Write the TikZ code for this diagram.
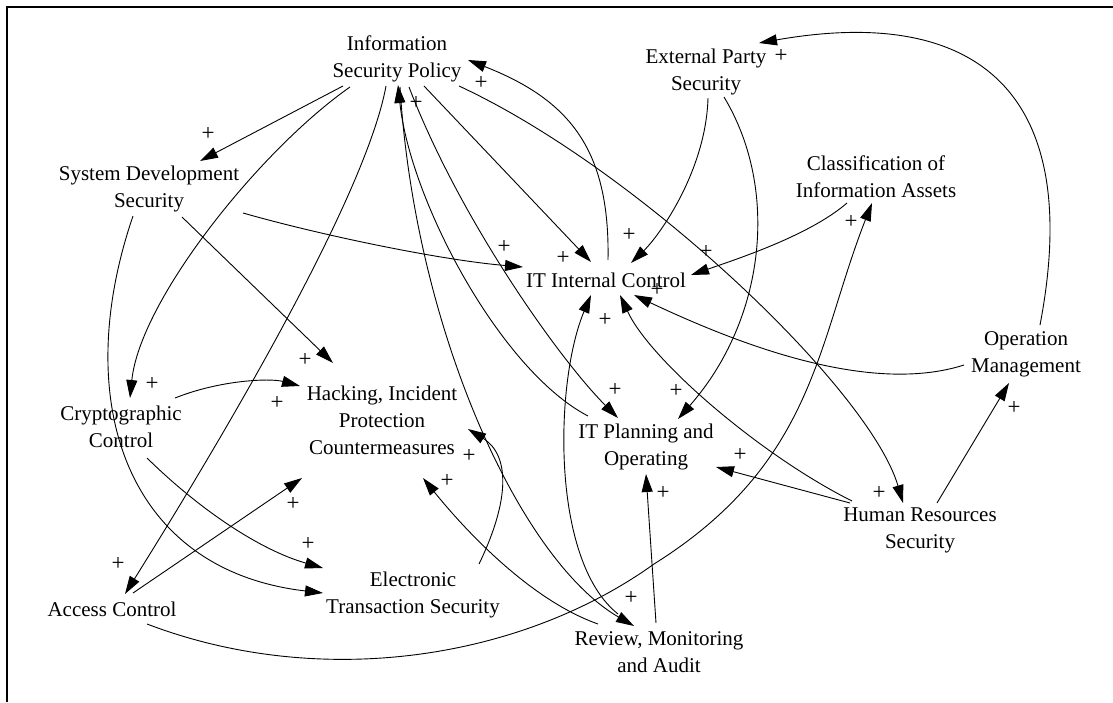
\documentclass[tikz,border=0pt]{standalone}
\usepackage{fontspec}
\setmainfont{Liberation Serif}
\usetikzlibrary{arrows.meta,calc}
\begin{document}
\begin{tikzpicture}[x=1pt,y=-1pt,
  var/.style={align=center,inner sep=0pt,font=\fontsize{21}{27}\selectfont},
  pol/.style={inner sep=0pt,font=\fontsize{23}{27}\selectfont},
  link/.style={line width=0.9pt,-{Triangle[length=18pt,width=11pt]}},
  frame/.style={line width=2.6pt,line join=miter}]
\useasboundingbox (0,0) rectangle (1113,702);
\fill[white] (0,0) rectangle (1113,702);
\draw[frame] (7,702) -- (7,7) -- (1113,7);

% variables
\node[var] (isp)  at (397,58.5)  {Information\\Security Policy};
\node[var] (eps)  at (706,71.5)  {External Party\\Security};
\node[var] (cia)  at (876,177)   {Classification of\\Information Assets};
\node[var] (sds)  at (149,188.5) {System Development\\Security};
\node[var] (itic) at (606,280)   {IT Internal Control};
\node[var] (cc)   at (121,427)   {Cryptographic\\Control};
\node[var] (hipc) at (382,420)   {Hacking, Incident\\Protection\\Countermeasures};
\node[var] (itpo) at (646,446.5) {IT Planning and\\Operating};
\node[var] (om)   at (1026,354)  {Operation\\Management};
\node[var] (hrs)  at (920,530.5) {Human Resources\\Security};
\node[var] (rma)  at (659,652)   {Review, Monitoring\\and Audit};
\node[var] (ets)  at (413,594.5) {Electronic\\Transaction Security};
\node[var] (ac)   at (112,609)   {Access Control};

% links leaving the security policy
\draw[link] ($(isp)+(-54,27.5)$) -- ($(sds)+(51,-27.5)$);
\draw[link] ($(isp)+(-47,28.5)$) .. controls (260,150) and (140,300) .. ($(cc)+(9,-29)$);
\draw[link] ($(isp)+(-11,27.5)$) .. controls (365,200) and (215,450) .. ($(ac)+(13,-15)$);
\draw[link] ($(isp)+(3,28.5)$) .. controls (415,330) and (520,560) .. ($(rma)+(-25,-26)$);
\draw[link] ($(itpo)+(-58,-30.5)$) .. controls (500,370) and (410,200) .. ($(isp)+(1,26.5)$);
\draw[link] ($(isp)+(12,28.5)$) .. controls (460,220) and (560,360) .. ($(itpo)+(-28,-28.5)$);
\draw[link] ($(isp)+(27,27.5)$) -- ($(itic)+(-15,-18)$);
\draw[link] ($(itic)+(2,-20)$) .. controls (610,150) and (570,100) .. ($(isp)+(71,1.5)$);
\draw[link] ($(isp)+(62,27.5)$) .. controls (640,170) and (870,390) .. ($(hrs)+(-17,-27.5)$);

% system development security
\draw[link] ($(sds)+(94,24.5)$) .. controls (320,235) and (440,260) .. ($(itic)+(-83,-13)$);
\draw[link] ($(sds)+(33,28.5)$) -- ($(hipc)+(-49,-57)$);
\draw[link] ($(sds)+(-16,27.5)$) .. controls (70,400) and (125,570) .. ($(ets)+(-90,-1.5)$);

% cryptographic control
\draw[link] ($(cc)+(54,-29)$) .. controls (220,380) and (270,378) .. ($(hipc)+(-82,-34)$);
\draw[link] ($(cc)+(26,31)$) .. controls (200,510) and (260,550) .. ($(ets)+(-90,-26.5)$);

% access control
\draw[link] ($(ac)+(21,-16)$) -- ($(hipc)+(-80,58)$);
\draw[link] ($(ac)+(35,15)$) .. controls (320,690) and (520,660) .. (654,564)
  .. controls (815,463) and (817,343) .. ($(cia)+(-4,26)$);

% electronic transactions, review
\draw[link] ($(ets)+(66,-30.5)$) .. controls (510,500) and (510,455) .. ($(hipc)+(86,9)$);
\draw[link] ($(rma)+(-61,-28)$) .. controls (530,600) and (465,530) .. ($(hipc)+(41,58)$);
\draw[link] ($(rma)+(-3,-29)$) -- ($(itpo)+(0,27.5)$);
\draw[link] ($(rma)+(-41,-38)$) .. controls (550,560) and (555,380) .. ($(itic)+(-15,15)$);

% external party, classification
\draw[link] ($(eps)+(2,26.5)$) .. controls (706,170) and (660,235) .. ($(itic)+(25,-17)$);
\draw[link] ($(eps)+(18,25.5)$) .. controls (780,190) and (765,320) .. ($(itpo)+(32,-27.5)$);
\draw[link] ($(cia)+(-29,26)$) .. controls (810,235) and (740,258) .. ($(itic)+(85,-5)$);

% operation management
\draw[link] ($(om)+(-62,11)$) .. controls (870,395) and (740,345) .. ($(itic)+(28,15)$);
\draw[link] ($(om)+(14,-29)$) .. controls (1085,90) and (975,5) .. ($(eps)+(53,-28.5)$);

% human resources
\draw[link] ($(hrs)+(17,-27.5)$) -- ($(om)+(-17,29)$);
\draw[link] ($(hrs)+(-70,-27.5)$) -- ($(itpo)+(70,20.5)$);
\draw[link] ($(hrs)+(-68,-29.5)$) .. controls (760,455) and (650,360) .. ($(itic)+(14,15)$);

% polarities
\node[pol] (p1)  at (208,134) {+};
\node[pol] (p2)  at (152,384) {+};
\node[pol] (p3)  at (118,564) {+};
\node[pol] (p4)  at (416,103) {+};
\node[pol] (p5)  at (481,83)  {+};
\node[pol] (p6)  at (563,258) {+};
\node[pol] (p7)  at (504,247) {+};
\node[pol] (p8)  at (629,235) {+};
\node[pol] (p9)  at (706,252) {+};
\node[pol] (p10) at (657,290) {+};
\node[pol] (p11) at (605,320) {+};
\node[pol] (p12) at (305,360) {+};
\node[pol] (p13) at (277,403) {+};
\node[pol] (p14) at (293,504) {+};
\node[pol] (p15) at (469,456) {+};
\node[pol] (p16) at (447,481) {+};
\node[pol] (p17) at (308,544) {+};
\node[pol] (p18) at (615,390) {+};
\node[pol] (p19) at (676,391) {+};
\node[pol] (p20) at (740,455) {+};
\node[pol] (p21) at (663,493) {+};
\node[pol] (p22) at (631,598) {+};
\node[pol] (p23) at (879,493) {+};
\node[pol] (p24) at (1014,408) {+};
\node[pol] (p25) at (851,222) {+};
\node[pol] (p26) at (781,56)  {+};
\end{tikzpicture}
\end{document}
